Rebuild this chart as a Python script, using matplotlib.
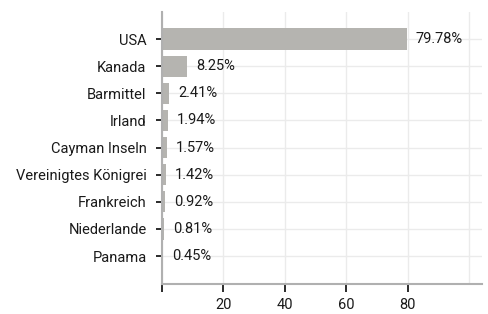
import matplotlib
matplotlib.use("Agg")
import matplotlib.pyplot as plt

plt.rcParams['font.family'] = ['Roboto', 'DejaVu Sans']

countries = ["USA", "Kanada", "Barmittel", "Irland", "Cayman Inseln",
             "Vereinigtes Königrei", "Frankreich", "Niederlande", "Panama"]
shares = [79.78, 8.25, 2.41, 1.94, 1.57, 1.42, 0.92, 0.81, 0.45]
labels = ["79.78%", "8.25%", "2.41%", "1.94%", "1.57%", "1.42%", "0.92%", "0.81%", "0.45%"]
xticks = [0, 20, 40, 60, 80]
xticklabels = ["", "20", "40", "60", "80"]

fig = plt.figure(figsize=(4.89, 3.14), dpi=100)
ax = fig.add_axes([0.331, 0.0955, 0.655, 0.8665])

ypos = list(range(len(countries)))
ax.barh(ypos, shares, height=0.78, color="#b5b4b0", zorder=2)
for y, v, t in zip(ypos, shares, labels):
    ax.annotate(t, (v, y), xytext=(6.5, 0), textcoords="offset points",
                va="center", ha="left", fontsize=10.5, color="#1a1a1a")

ax.set_yticks(ypos)
ax.set_yticklabels(countries, fontsize=10.5, color="#1a1a1a")
ax.set_xticks(xticks)
ax.set_xticklabels(xticklabels, fontsize=10.5, color="#1a1a1a")
ax.set_xlim(0, 104.3)
ax.set_ylim(len(countries) - 1 + 1.03, -1.0)

ax.grid(True, color="#ebebeb", linewidth=1, zorder=0)
ax.axvline(100, color="#ebebeb", linewidth=1, zorder=0)
ax.set_axisbelow(True)

for s in ["top", "right"]:
    ax.spines[s].set_visible(False)
for s in ["left", "bottom"]:
    ax.spines[s].set_color("#b0b0b0")
    ax.spines[s].set_linewidth(1.5)

ax.tick_params(axis="y", length=4, width=1.3, color="#1a1a1a", pad=7)
ax.tick_params(axis="x", length=6, width=1.3, color="#1a1a1a", pad=4)

fig.savefig("out.png", dpi=100)
